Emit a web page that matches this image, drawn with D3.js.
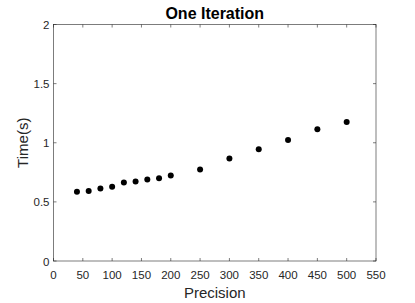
<!DOCTYPE html>
<html><head><meta charset="utf-8">
<script src="https://cdn.jsdelivr.net/npm/d3@7"></script>
<style>body{margin:0;background:#fff;}svg{display:block;}</style>
</head><body>
<script>
const precision = [40,60,80,100,120,140,160,180,200,250,300,350,400,450,500];
const timeSec = [0.585,0.591,0.614,0.627,0.664,0.673,0.689,0.700,0.723,0.774,0.867,0.945,1.024,1.114,1.176];
const xTicks = [0,50,100,150,200,250,300,350,400,450,500,550];
const yTicks = [0,0.5,1,1.5,2];
const yTickLabels = ["0","0.5","1","1.5","2"];

const W=415,H=303;
const L=53.5,R=376,T=24.5,B=261;
const svg=d3.select("body").append("svg").attr("width",W).attr("height",H);
const x=d3.scaleLinear().domain([0,550]).range([L,R]);
const y=d3.scaleLinear().domain([0,2]).range([B,T]);
const ax="#262626";
const font="Liberation Sans, Arial, Helvetica, sans-serif";

svg.append("rect").attr("x",L).attr("y",T).attr("width",R-L).attr("height",B-T)
  .attr("fill","#fff").attr("stroke",ax).attr("stroke-width",0.6);

const tl=3;
const g=svg.append("g").attr("stroke",ax).attr("stroke-width",0.6);
xTicks.forEach(t=>{
  g.append("line").attr("x1",x(t)).attr("x2",x(t)).attr("y1",B).attr("y2",B-tl);
  g.append("line").attr("x1",x(t)).attr("x2",x(t)).attr("y1",T).attr("y2",T+tl);
});
yTicks.forEach(t=>{
  g.append("line").attr("y1",y(t)).attr("y2",y(t)).attr("x1",L).attr("x2",L+tl);
  g.append("line").attr("y1",y(t)).attr("y2",y(t)).attr("x1",R).attr("x2",R-tl);
});

svg.append("g").selectAll("text").data(xTicks).join("text")
  .attr("x",d=>x(d)).attr("y",B+18).attr("text-anchor","middle")
  .attr("font-family",font).attr("font-size",11.5).attr("fill",ax).text(d=>d);
svg.append("g").selectAll("text").data(yTicks).join("text")
  .attr("x",L-4).attr("y",d=>y(d)+4.5).attr("text-anchor","end")
  .attr("font-family",font).attr("font-size",11.5).attr("fill",ax).text((d,i)=>yTickLabels[i]);

svg.append("text").attr("x",(L+R)/2).attr("y",298).attr("text-anchor","middle")
  .attr("font-family",font).attr("font-size",15).attr("fill",ax).text("Precision");
svg.append("text").attr("transform",`translate(27.5,${(T+B)/2}) rotate(-90)`).attr("text-anchor","middle")
  .attr("font-family",font).attr("font-size",15).attr("fill",ax).text("Time(s)");
svg.append("text").attr("x",(L+R)/2).attr("y",18.5).attr("text-anchor","middle")
  .attr("font-family",font).attr("font-size",16).attr("font-weight","bold").attr("fill","#000").text("One Iteration");

svg.append("g").selectAll("circle").data(precision).join("circle")
  .attr("cx",d=>x(d)).attr("cy",(d,i)=>y(timeSec[i])).attr("r",3).attr("fill","#000");
</script>
</body></html>
